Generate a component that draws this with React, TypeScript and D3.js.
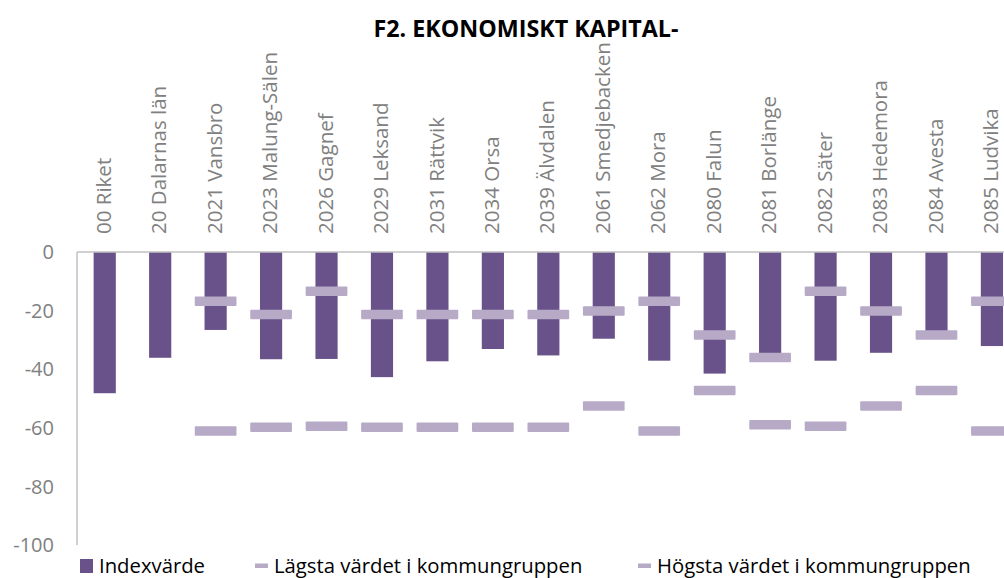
import { useEffect, useRef } from "react"
import * as d3 from "d3"

const categories = [
  "00 Riket",
  "20 Dalarnas län",
  "2021 Vansbro",
  "2023 Malung-Sälen",
  "2026 Gagnef",
  "2029 Leksand",
  "2031 Rättvik",
  "2034 Orsa",
  "2039 Älvdalen",
  "2061 Smedjebacken",
  "2062 Mora",
  "2080 Falun",
  "2081 Borlänge",
  "2082 Säter",
  "2083 Hedemora",
  "2084 Avesta",
  "2085 Ludvika",
]

// Indexvärde
const indexValues = [
  -48.2, -36.1, -26.6, -36.6, -36.5, -42.7, -37.3, -33.1, -35.3, -29.6, -37.1, -41.5, -35.5, -37.1,
  -34.4, -28, -32.1,
]

// Lägsta värdet i kommungruppen
const lowestValues: (number | null)[] = [
  null, null, -61.1, -59.8, -59.5, -59.8, -59.8, -59.8, -59.8, -52.6, -61.1, -47.3, -59.0, -59.5,
  -52.6, -47.3, -61.1,
]

// Högsta värdet i kommungruppen
const highestValues: (number | null)[] = [
  null, null, -16.8, -21.3, -13.4, -21.3, -21.3, -21.3, -21.3, -20.1, -16.8, -28.3, -36.0, -13.4,
  -20.1, -28.3, -16.8,
]

const yTicks = [0, -20, -40, -60, -80, -100]

const legendItems = [
  { label: "Indexvärde", kind: "bar" },
  { label: "Lägsta värdet i kommungruppen", kind: "dash" },
  { label: "Högsta värdet i kommungruppen", kind: "dash" },
]

const WIDTH = 1004
const HEIGHT = 578
const BAR_COLOR = "#69518a"
const MARK_COLOR = "#b6aac7"
const AXIS_COLOR = "#c0c0c0"
const TEXT_GRAY = "#808080"
const FONT = "'Open Sans', sans-serif"

export default function App() {
  const svgRef = useRef<SVGSVGElement>(null)

  useEffect(() => {
    const svg = d3.select(svgRef.current!)
    svg.selectAll("*").remove()

    const left = 77
    const step = 55.45
    const x = d3
      .scaleBand<string>()
      .domain(categories)
      .range([left, left + step * categories.length])
      .padding(0)
    const y = d3.scaleLinear().domain([-100, 0]).range([545, 252])

    const barW = x.bandwidth() * 0.4
    const markW = 41.7
    const markH = 9.5
    const cxOf = (c: string) => (x(c) ?? 0) + x.bandwidth() / 2

    // title
    svg
      .append("text")
      .attr("x", 526)
      .attr("y", 37)
      .attr("text-anchor", "middle")
      .attr("font-family", FONT)
      .attr("font-weight", 700)
      .attr("font-size", 23.3)
      .attr("fill", "#000")
      .text("F2. EKONOMISKT KAPITAL-")

    // y tick labels
    svg
      .append("g")
      .selectAll("text")
      .data(yTicks)
      .enter()
      .append("text")
      .attr("x", 54)
      .attr("y", (d) => y(d))
      .attr("dy", "0.36em")
      .attr("text-anchor", "end")
      .attr("font-family", FONT)
      .attr("font-size", 20)
      .attr("fill", TEXT_GRAY)
      .text((d) => d)

    // bars (from 0 downwards)
    svg
      .append("g")
      .selectAll("rect")
      .data(categories)
      .enter()
      .append("rect")
      .attr("x", (c) => cxOf(c) - barW / 2)
      .attr("width", barW)
      .attr("y", y(0))
      .attr("height", (_, i) => y(indexValues[i]) - y(0))
      .attr("fill", BAR_COLOR)

    // axis lines
    svg
      .append("line")
      .attr("x1", left)
      .attr("x2", WIDTH + 20)
      .attr("y1", y(0))
      .attr("y2", y(0))
      .attr("stroke", AXIS_COLOR)
      .attr("stroke-width", 1.5)
    svg
      .append("line")
      .attr("x1", left)
      .attr("x2", left)
      .attr("y1", y(0))
      .attr("y2", y(-100))
      .attr("stroke", AXIS_COLOR)
      .attr("stroke-width", 1.5)

    // dash markers for min / max of the kommungrupp
    const marks = [lowestValues, highestValues]
    marks.forEach((series) => {
      svg
        .append("g")
        .selectAll("rect")
        .data(categories.map((c, i) => ({ c, v: series[i] })).filter((d) => d.v != null))
        .enter()
        .append("rect")
        .attr("x", (d) => cxOf(d.c) - markW / 2)
        .attr("y", (d) => y(d.v as number) - markH / 2)
        .attr("width", markW)
        .attr("height", markH)
        .attr("rx", 1)
        .attr("fill", MARK_COLOR)
    })

    // category labels, rotated
    svg
      .append("g")
      .selectAll("text")
      .data(categories)
      .enter()
      .append("text")
      .attr("transform", (c) => `translate(${cxOf(c)},234) rotate(-90)`)
      .attr("dy", "0.3em")
      .attr("text-anchor", "start")
      .attr("font-family", FONT)
      .attr("font-size", 20.5)
      .attr("fill", TEXT_GRAY)
      .text((c) => c)

    // legend
    const legendX = [80, 255, 638]
    const lg = svg.append("g")
    legendItems.forEach((item, i) => {
      const lx = legendX[i]
      if (item.kind === "bar") {
        lg.append("rect").attr("x", lx).attr("y", 559).attr("width", 13).attr("height", 14).attr("fill", BAR_COLOR)
      } else {
        lg.append("rect").attr("x", lx).attr("y", 563.5).attr("width", 13).attr("height", 4.5).attr("fill", MARK_COLOR)
      }
      lg.append("text")
        .attr("x", lx + 19)
        .attr("y", 572.5)
        .attr("font-family", FONT)
        .attr("font-size", 20.3)
        .attr("fill", "#000")
        .text(item.label)
    })
  }, [])

  return (
    <div style={{ position: "absolute", left: 0, top: 0 }}>
      <svg ref={svgRef} width={WIDTH} height={HEIGHT} style={{ display: "block", background: "#fff" }} />
    </div>
  )
}
